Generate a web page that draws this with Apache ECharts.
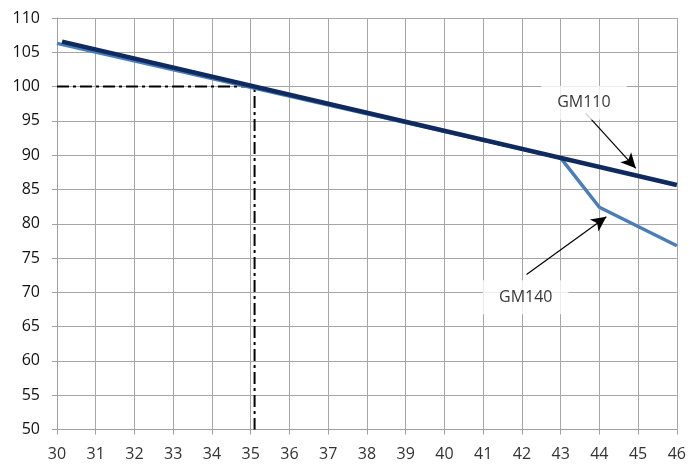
<!DOCTYPE html>
<html><head><meta charset="utf-8">
<script src="https://cdn.jsdelivr.net/npm/echarts@6/dist/echarts.min.js"></script>
<style>html,body{margin:0;padding:0;background:#fff}#c{width:689px;height:466px}</style>
</head><body><div id="c"></div>
<script>
// Data
const xTicks = [30, 46, 1];
const yTicks = [50, 110, 5];
const gm110 = [[30.13, 106.55], [46, 85.65]];
const gm140 = [[30, 106.3], [43, 89.6], [44, 82.4], [46, 76.8]];
const refLine = [[30, 100], [35.1, 100], [35.1, 50]];
const labels = [
  { name: 'GM110', pos: [43.6, 97.65], from: [43.65, 96.1], to: [44.94, 88.08] },
  { name: 'GM140', pos: [42.1, 69.3], from: [42.12, 72.6], to: [44.18, 81.03] }
];

const chart = echarts.init(document.getElementById('c'), null, { renderer: 'canvas' });
const font = '"Open Sans", "Noto Sans", sans-serif';
chart.setOption({
  animation: false,
  backgroundColor: '#fff',
  grid: { left: 57, right: 12, top: 18, bottom: 36.5 },
  xAxis: {
    type: 'value', min: xTicks[0], max: xTicks[1], interval: xTicks[2],
    axisLine: { show: true, lineStyle: { color: '#a0a0a0', width: 1 } },
    axisTick: { show: true, length: 5, lineStyle: { color: '#a0a0a0' } },
    splitLine: { show: true, lineStyle: { color: '#a6a6a6', width: 1 } },
    axisLabel: { color: '#333', fontSize: 16, fontFamily: font, margin: 17 }
  },
  yAxis: {
    type: 'value', min: yTicks[0], max: yTicks[1], interval: yTicks[2],
    axisLine: { show: true, lineStyle: { color: '#a0a0a0', width: 1 } },
    axisTick: { show: true, length: 5, lineStyle: { color: '#a0a0a0' } },
    splitLine: { show: true, lineStyle: { color: '#a6a6a6', width: 1 } },
    axisLabel: { color: '#111', fontSize: 16, fontFamily: font, margin: 17 }
  },
  series: [
    {
      type: 'line', name: 'ref', data: refLine, showSymbol: false, symbol: 'none',
      lineStyle: { color: '#000', width: 2, type: [12, 4, 3, 4] }, z: 3
    },
    {
      type: 'line', name: 'GM140', data: gm140, showSymbol: false, symbol: 'none',
      lineStyle: { color: '#4a7ebb', width: 3.5 }, z: 4
    },
    {
      type: 'line', name: 'GM110', data: gm110, showSymbol: false, symbol: 'none',
      lineStyle: { color: '#0f2a5e', width: 4.5 }, z: 5
    },
    {
      type: 'scatter', name: 'labels', symbolSize: 0, z: 6,
      data: labels.map(l => ({ value: l.pos, name: l.name })),
      label: {
        show: true, position: 'inside', formatter: '{b}', color: '#000',
        fontSize: 16, fontFamily: font, backgroundColor: '#fff',
        padding: [9, 16, 9, 16]
      },
      markLine: {
        silent: true, animation: false,
        symbol: ['none', 'arrow'], symbolSize: [11, 15],
        lineStyle: { color: '#000', width: 1.2, type: 'solid' },
        label: { show: false },
        data: labels.map(l => [
          { coord: l.from, symbol: 'none' },
          { coord: l.to, symbol: 'arrow' }
        ])
      }
    }
  ]
});
</script></body></html>
